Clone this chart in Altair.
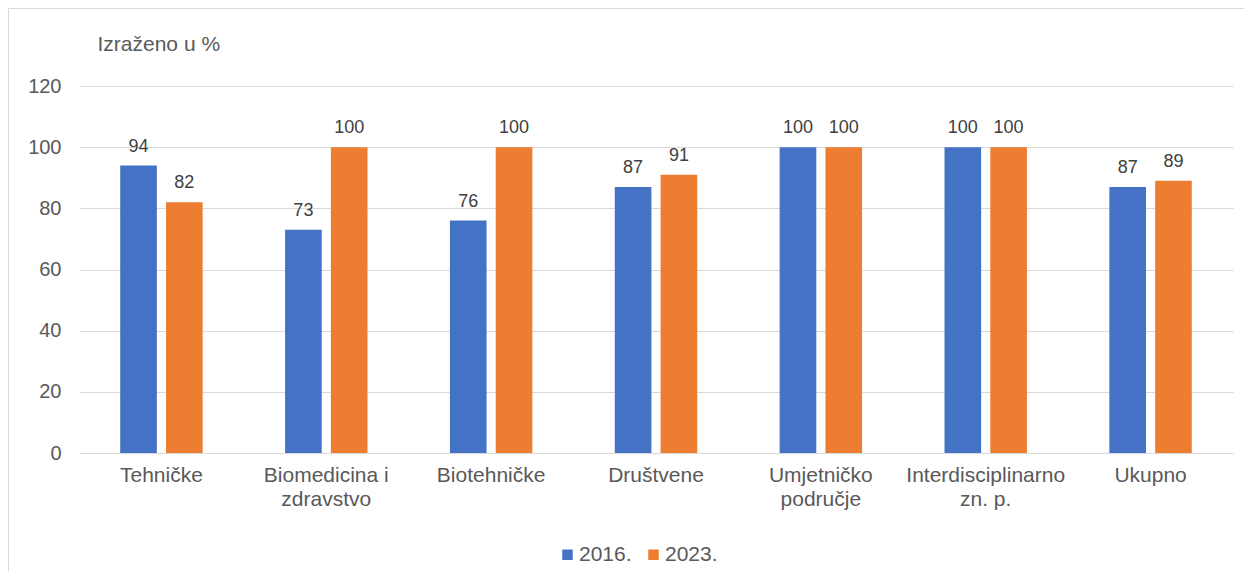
import json
import altair as alt
import pandas as pd

categories = ["Tehničke", "Biomedicina i zdravstvo", "Biotehničke", "Društvene",
              "Umjetničko područje", "Interdisciplinarno zn. p.", "Ukupno"]
label_lines = [["Tehničke"], ["Biomedicina i", "zdravstvo"], ["Biotehničke"], ["Društvene"],
               ["Umjetničko", "područje"], ["Interdisciplinarno", "zn. p."], ["Ukupno"]]
years = ["2016.", "2023."]
values_2016 = [94, 73, 76, 87, 100, 100, 87]
values_2023 = [82, 100, 100, 91, 100, 100, 89]
y_ticks = [0, 20, 40, 60, 80, 100, 120]
colors = ["#4472C4", "#ED7D31"]
axis_title = "Izraženo u %"

rows = []
for c, v1, v2 in zip(categories, values_2016, values_2023):
    rows.append({"kategorija": c, "godina": years[0], "vrijednost": v1})
    rows.append({"kategorija": c, "godina": years[1], "vrijednost": v2})
df = pd.DataFrame(rows)

label_map = json.dumps(dict(zip(categories, label_lines)), ensure_ascii=False)

FONT = "Liberation Sans"
GREY = "#595959"
W, H = 1154, 367

x_axis = alt.Axis(title=None, labelAngle=0, ticks=False, labelPadding=11,
                  labelFontSize=21, labelColor=GREY, labelFont=FONT,
                  labelLineHeight=24, labelBaseline="top",
                  domainColor="#D9D9D9", grid=False,
                  labelExpr=f"{label_map}[datum.label]")
y_axis = alt.Axis(values=y_ticks, title=axis_title, titleAngle=0, titleAlign="left",
                  titleBaseline="middle", titleX=18, titleY=-42,
                  titleFontSize=21, titleFontWeight="normal", titleColor=GREY,
                  titleFont=FONT, labelFontSize=20, labelColor=GREY, labelFont=FONT,
                  labelPadding=18, ticks=False, domain=False,
                  gridColor="#D9D9D9", gridWidth=1)

x_enc = alt.X("kategorija:N", sort=categories,
              scale=alt.Scale(paddingInner=0.5, paddingOuter=0.25), axis=x_axis)
xo_enc = alt.XOffset("godina:N", sort=years, scale=alt.Scale(paddingInner=0.2, paddingOuter=0))
y_enc = alt.Y("vrijednost:Q", scale=alt.Scale(domain=[0, 120], nice=False), axis=y_axis)

border = alt.Chart(alt.Data(values=[{"b": 1}])).mark_rect(
    filled=False, stroke="#D9D9D9", strokeWidth=1
).encode(x=alt.value(-70.5), x2=alt.value(3000), y=alt.value(-77.5), y2=alt.value(3000))

bars = alt.Chart(df).mark_bar().encode(
    x=x_enc, xOffset=xo_enc, y=y_enc,
    color=alt.Color("godina:N", sort=years,
                    scale=alt.Scale(domain=years, range=colors),
                    legend=alt.Legend(title=None, orient="none", direction="horizontal",
                                      legendX=478, legendY=458, symbolType="square",
                                      symbolSize=110, symbolStrokeWidth=0,
                                      labelFontSize=21, labelColor=GREY, labelFont=FONT,
                                      labelOffset=1, columnPadding=11, padding=0))
)

labels = alt.Chart(df).mark_text(
    baseline="alphabetic", dy=-14, fontSize=18, font=FONT, color="#404040"
).encode(x=x_enc, xOffset=xo_enc, y=y_enc,
         text=alt.Text("vrijednost:Q", format=".0f"))

chart = alt.layer(border, bars, labels).properties(
    width=W, height=H, background="white",
    autosize=alt.AutoSizeParams(type="none"),
    padding={"left": 71, "top": 78, "right": 11, "bottom": 118},
).configure_view(stroke=None).configure_axisX(grid=False)

chart.save("out.html", embed_options={"renderer": "svg", "actions": False})
